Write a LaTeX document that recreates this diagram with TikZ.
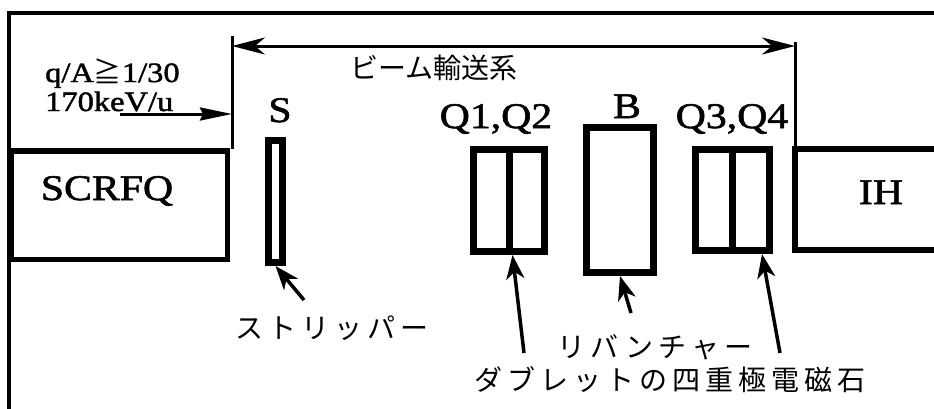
\documentclass[tikz,border=0pt]{standalone}
\usepackage{fontspec}
\setmainfont[FakeStretch=1.16, FakeBold=1.6]{Liberation Serif}
\newfontfamily\jpfont{Noto Sans CJK JP}
\newfontfamily\jpwide[LetterSpace=18]{Noto Sans CJK JP}
\usetikzlibrary{arrows.meta,calc}
\begin{document}
\begin{tikzpicture}[x=1pt,y=-1pt,
  frameline/.style={line width=4pt},
  mag/.style={draw, line width=7pt, inner sep=0pt, outer sep=3.5pt},
  acc/.style={draw, line width=5.5pt, inner sep=0pt, outer sep=2.75pt},
  thinline/.style={line width=3pt},
  lbl/.style={inner sep=0pt, anchor=base, font=\fontsize{36}{40}\selectfont},
  smalllbl/.style={inner sep=0pt, anchor=base west, font=\fontsize{28}{32}\selectfont},
  jp/.style={inner sep=0pt, font=\jpwide\fontsize{28}{32}\selectfont},
  jptop/.style={inner sep=0pt, font=\jpfont\fontsize{28}{32}\selectfont},
  ptr/.style={line width=3.5pt, -{Stealth[length=24pt,width=18pt,inset=7pt]}},
  span/.style={line width=3pt, {Stealth[length=33pt,width=17pt,inset=10pt]}-{Stealth[length=33pt,width=17pt,inset=10pt]}},
]
\clip (0,0) rectangle (934,408);
\fill[white] (0,0) rectangle (934,408);
\draw[frameline] (9,412) -- (9,13) -- (940,13);

% accelerators
\node[acc, minimum width=216.5pt, minimum height=108.5pt] (scrfq) at (119,205) {};
\node[lbl] (tscrfq) at (107,200) {SCRFQ};
\node[acc, line width=6pt, minimum width=205pt, minimum height=101pt] (ih) at (897.5,199.5) {};
\node[lbl] (tih) at (881,204) {IH};

% elements
\node[mag, minimum width=14pt, minimum height=122pt] (s) at (275.5,201.5) {};
\node[mag, minimum width=35.5pt, minimum height=102pt] (q1) at (491.25,200.5) {};
\node[mag, minimum width=35.5pt, minimum height=102pt] (q2) at (526.75,200.5) {};
\node[mag, minimum width=67pt, minimum height=145pt] (b) at (620,200) {};
\node[mag, minimum width=37pt, minimum height=101pt] (q3) at (714,200) {};
\node[mag, minimum width=37pt, minimum height=101pt] (q4) at (751,200) {};

\node[lbl] (ts) at (280,122) {S};
\node[lbl] (tq12) at (496,128) {Q1,Q2};
\node[lbl] (tb) at (627,118) {B};
\node[lbl] (tq34) at (732,128) {Q3,Q4};

\node[smalllbl] (tqa) at (45,82) {q/A{\jpfont ≧}1/30};
\node[smalllbl] (tke) at (45,111) {170keV/u};

% beam transport span
\coordinate (bl) at (232,46);
\coordinate (br) at (795,46);
\coordinate (bltop) at (232,36);
\coordinate (brtop) at (795,42);
\coordinate (blb) at (232,149);
\coordinate (brb) at (795,147);
\draw[thinline] (bltop) -- (blb);
\draw[thinline] (brtop) -- (brb);
\draw[span] (bl) -- (br);
\node[jptop] (tbt) at (434,68) {ビーム輸送系};

% input beam
\coordinate (inA) at (120,114);
\coordinate (inB) at (232,114);
\draw[thinline, -{Stealth[length=32pt,width=13pt,inset=3pt]}] (inA) -- (inB);

% pointers
\coordinate (ts0) at (304,300);
\draw[ptr] (ts0) -- (s.south);
\coordinate (tq0) at (524,353);
\draw[ptr] (tq0) -- (q1.south east);
\coordinate (tb0) at (631,313);
\draw[ptr] (tb0) -- (b.south);
\coordinate (tq40) at (780,353);
\coordinate (q4tip) at ($(q4.south)!0.5!(q4.south east)$);
\draw[ptr] (tq40) -- (q4tip);

\node[jp] (tstrip) at (332,328) {ストリッパー};
\node[jp] (treb) at (655,347) {リバンチャー};
\node[jp] (tdq) at (670,380) {ダブレットの四重極電磁石};
\end{tikzpicture}
\end{document}
